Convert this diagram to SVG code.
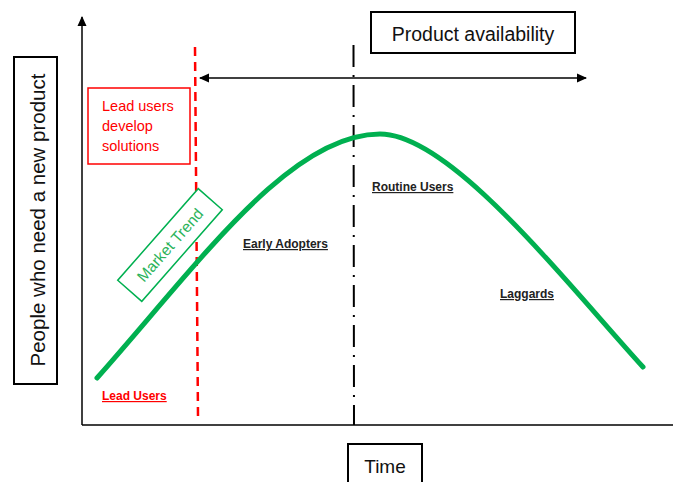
<svg xmlns="http://www.w3.org/2000/svg" width="673" height="482" viewBox="0 0 673 482">
<style>
.lbl{font-family:"Liberation Sans",Arial,sans-serif;font-weight:bold;font-size:12px;fill:#222;text-decoration:underline}
.big{font-family:"Liberation Sans",Arial,sans-serif;fill:#111}
.box{fill:#fff;stroke:#000;stroke-width:2}
.axis{stroke:#000;stroke-width:1.5;fill:none}
</style>
<defs>
<marker id="ah" markerWidth="10" markerHeight="10" refX="9" refY="5" orient="auto" markerUnits="userSpaceOnUse">
<path d="M0,0.5 L10,5 L0,9.5 Z" fill="#000"/>
</marker>
<marker id="ahs" markerWidth="10" markerHeight="10" refX="1" refY="5" orient="auto" markerUnits="userSpaceOnUse">
<path d="M10,0.5 L0,5 L10,9.5 Z" fill="#000"/>
</marker>
</defs>
<rect width="673" height="482" fill="#fff"/>
<g id="connectors">
<line class="axis" x1="82" y1="425" x2="82" y2="17" marker-end="url(#ah)"/>
<line class="axis" x1="82" y1="425" x2="673" y2="425"/>
<line x1="200" y1="78" x2="586" y2="78" stroke="#000" stroke-width="1.5" marker-start="url(#ahs)" marker-end="url(#ah)"/>
<line x1="195" y1="47" x2="198" y2="417" stroke="#ff0000" stroke-width="2.5" stroke-dasharray="9 6"/>
<line x1="353.5" y1="45" x2="354" y2="425" stroke="#000" stroke-width="2" stroke-dasharray="22 8 2 8"/>
<path d="M97,378 C200,262 290,134 380,134 C450,134 563,279 643,367" fill="none" stroke="#00b050" stroke-width="5" stroke-linecap="round"/>
</g>
<g id="y-label">
<rect class="box" x="14" y="57" width="43" height="327"/>
<text class="big" transform="translate(45,220) rotate(-90)" text-anchor="middle" font-size="20.5">People who need a new product</text>
</g>
<g id="product-availability">
<rect class="box" x="371" y="12" width="204" height="41"/>
<text class="big" x="473" y="41" text-anchor="middle" font-size="19.5">Product availability</text>
</g>
<g id="time">
<rect class="box" x="348" y="444" width="74" height="45"/>
<text class="big" x="385" y="473" text-anchor="middle" font-size="19">Time</text>
</g>
<g id="lead-users-box">
<rect x="88" y="88" width="102" height="76" fill="#fff" stroke="#ff0000" stroke-width="1.5"/>
<text font-family="'Liberation Sans',Arial,sans-serif" font-size="14.5" fill="#ff0000">
<tspan x="102" y="111">Lead users</tspan>
<tspan x="102" y="131">develop</tspan>
<tspan x="102" y="151">solutions</tspan>
</text>
</g>
<g id="market-trend" transform="translate(170,245) rotate(-48.7)">
<rect x="-61" y="-16" width="122" height="32" fill="#fff" stroke="#00b050" stroke-width="1.5"/>
<text x="0" y="5.5" text-anchor="middle" font-family="'Liberation Sans',Arial,sans-serif" font-size="15.5" fill="#2bb35a">Market Trend</text>
</g>
<g id="early-adopters"><text class="lbl" x="243" y="248">Early Adopters</text></g>
<g id="routine-users"><text class="lbl" x="372" y="191">Routine Users</text></g>
<g id="laggards"><text class="lbl" x="500" y="298">Laggards</text></g>
<g id="lead-users"><text class="lbl" x="102" y="400" style="fill:#ff0000">Lead Users</text></g>
</svg>
